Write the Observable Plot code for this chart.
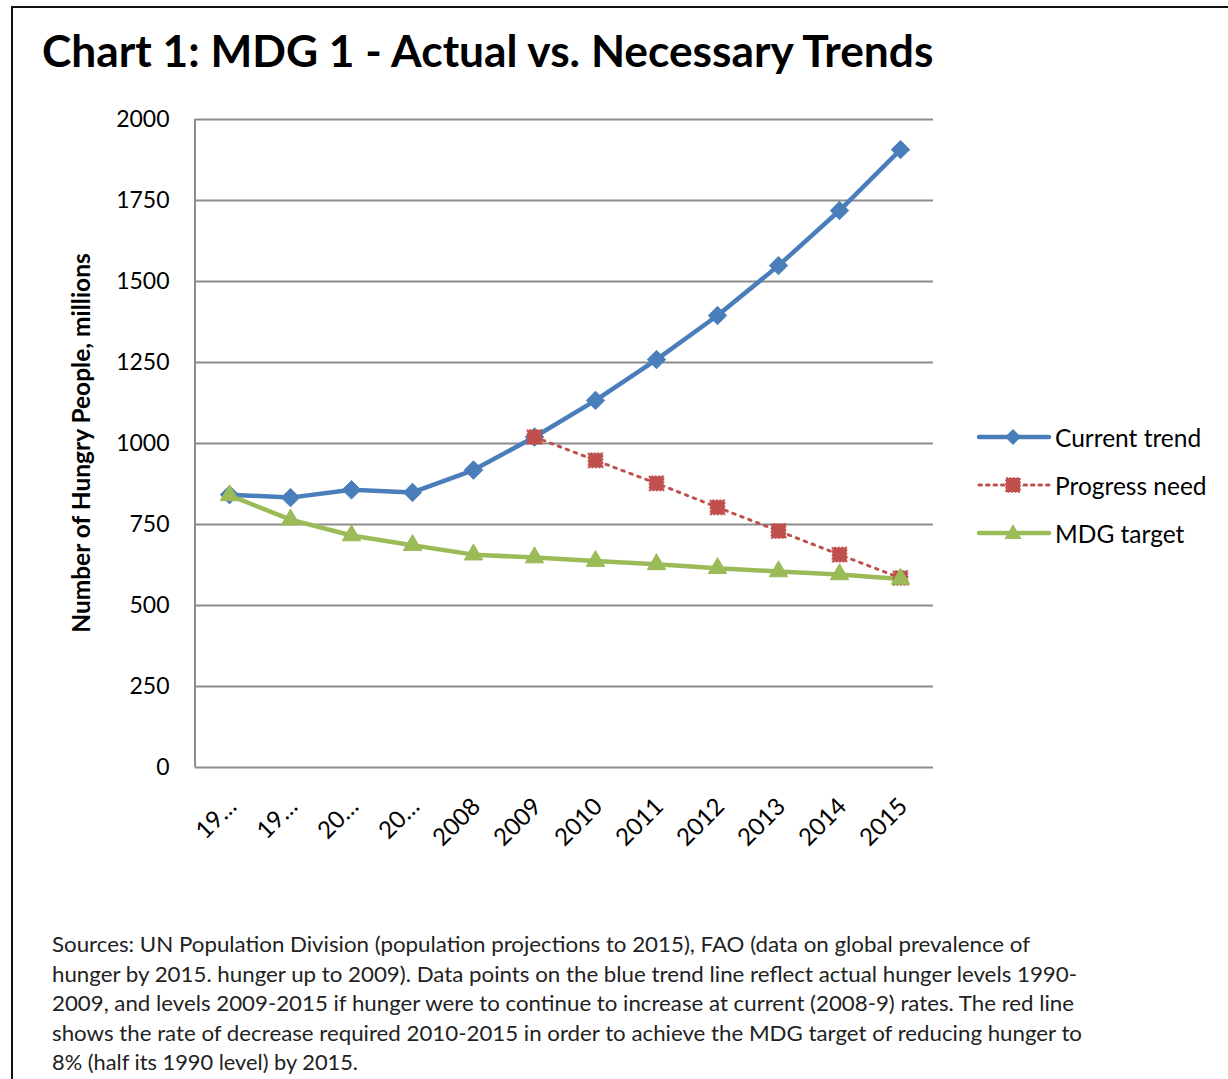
<!DOCTYPE html>
<html>
<head>
<meta charset="utf-8">
<script src="https://cdn.jsdelivr.net/npm/d3@7"></script>
<script src="https://cdn.jsdelivr.net/npm/@observablehq/plot@0.6"></script>
<style>
  html, body { margin: 0; padding: 0; background: #fff; width: 1228px; height: 1079px; overflow: hidden; }
  body { position: relative; font-family: Lato, "Open Sans", sans-serif; }
  #frame { position: absolute; left: 11px; top: 6px; width: 1300px; height: 1200px; border-left: 2px solid #111; border-top: 2px solid #111; }
  #title { position: absolute; left: 42px; top: 23px; font-size: 44.3px; font-weight: 700; color: #000; white-space: nowrap; }
  #chart { position: absolute; left: 0; top: 100px; }
  #ytitle { position: absolute; left: 80px; top: 443px; transform: translate(-50%, -50%) rotate(-90deg); font-size: 24.5px; font-weight: 700; white-space: nowrap; }
  #legend { position: absolute; left: 976px; top: 413px; }
  .li { display: flex; align-items: center; height: 48px; font-size: 24.5px; color: #000; }
  .li svg { margin-right: 3px; }
  #note { position: absolute; left: 52px; top: 929px; font-size: 21px; line-height: 29.5px; color: #222; white-space: nowrap; }
  #note div { transform-origin: 0 50%; }
</style>
</head>
<body>
<div id="frame"></div>
<div id="title">Chart 1: MDG 1 - Actual vs. Necessary Trends</div>
<div id="chart"></div>
<div id="ytitle">Number of Hungry People, millions</div>
<div id="legend"></div>
<div id="note"></div>
<script>
// ---- data ----
const years = ["1990", "1995", "2000", "2005", "2008", "2009", "2010", "2011", "2012", "2013", "2014", "2015"];
const tickLabels = ["19…", "19…", "20…", "20…", "2008", "2009", "2010", "2011", "2012", "2013", "2014", "2015"];
const currentTrend = [842, 833, 857, 849, 918, 1020, 1133, 1259, 1395, 1549, 1719, 1907];
const progressYears = ["2009", "2010", "2011", "2012", "2013", "2014", "2015"];
const progressNeed = [1020, 948, 877, 803, 730, 657, 585];
const mdgTarget = [840, 765, 716, 686, 657, 648, 637, 627, 615, 605, 596, 582];
const yTicks = [0, 250, 500, 750, 1000, 1250, 1500, 1750, 2000];
const seriesNames = ["Current trend", "Progress need", "MDG target"];
const noteLines = [
  "Sources: UN Population Division (population projections to 2015), FAO (data on global prevalence of",
  "hunger by 2015. hunger up to 2009). Data points on the blue trend line reflect actual hunger levels 1990-",
  "2009, and levels 2009-2015 if hunger were to continue to increase at current (2008-9) rates. The red line",
  "shows the rate of decrease required 2010-2015 in order to achieve the MDG target of reducing hunger to",
  "8% (half its 1990 level) by 2015."
];
const noteWidths = [978, 1025, 1022, 1030, 306];

const blue = "#4a7ebb", red = "#c0504d", green = "#9bbb59", grid = "#8c8c8c";

const cur = years.map((y, i) => ({year: y, v: currentTrend[i]}));
const prog = progressYears.map((y, i) => ({year: y, v: progressNeed[i]}));
const mdg = years.map((y, i) => ({year: y, v: mdgTarget[i]}));
const labelOf = new Map(years.map((y, i) => [y, tickLabels[i]]));

const plot = Plot.plot({
  width: 1228,
  height: 780,
  marginLeft: 195,
  marginRight: 295,
  marginTop: 19,
  marginBottom: 113,
  style: {fontFamily: "Lato, 'Open Sans', sans-serif", fontSize: "23px", color: "#000", background: "transparent"},
  x: {type: "point", domain: years, padding: 0.5},
  y: {domain: [0, 2000]},
  marks: [
    Plot.ruleY(yTicks, {stroke: grid, strokeWidth: 2}),
    Plot.axisY({ticks: yTicks, tickSize: 0, tickPadding: 26, label: null, fontSize: 23, tickFormat: d => String(d)}),
    Plot.axisX({tickSize: 0, tickPadding: 35, tickRotate: -45, dx: 3, label: null, fontSize: 24,
      tickFormat: d => labelOf.get(d)}),
    Plot.line(cur, {x: "year", y: "v", stroke: blue, strokeWidth: 4.5}),
    Plot.line(prog, {x: "year", y: "v", stroke: red, strokeWidth: 3, strokeDasharray: "2.5,6"}),
    Plot.line(mdg, {x: "year", y: "v", stroke: green, strokeWidth: 4.5}),
    Plot.dot(cur, {x: "year", y: "v", symbol: "diamond2", r: 8.3, fill: blue, stroke: blue, strokeWidth: 1}),
    Plot.dot(prog, {x: "year", y: "v", symbol: "square2", r: 9, fill: red, stroke: red, strokeWidth: 1.5, strokeDasharray: "2,1.5"}),
    Plot.dot(mdg, {x: "year", y: "v", symbol: "triangle2", r: 8.8, fill: green, stroke: green, strokeWidth: 1})
  ]
});
document.getElementById("chart").appendChild(plot);
const svg = d3.select(plot);
const ys = plot.scale("y");
// vertical axis line at the left edge of the plot area
svg.append("line").attr("x1", 195).attr("x2", 195).attr("y1", ys.apply(2000)).attr("y2", ys.apply(0))
  .attr("stroke", grid).attr("stroke-width", 2);

// legend
const legendStyles = [
  {color: blue, dash: null, sym: "diamond"},
  {color: red, dash: "2.5,5", sym: "square"},
  {color: green, dash: null, sym: "triangle"}
];
const lg = document.getElementById("legend");
seriesNames.forEach((name, i) => {
  const s = legendStyles[i];
  const row = document.createElement("div");
  row.className = "li";
  let marker = "";
  if (s.sym === "diamond") marker = `<path d="M37,4 L45,12 L37,20 L29,12Z" fill="${s.color}"/>`;
  if (s.sym === "square") marker = `<rect x="30" y="5" width="14" height="14" fill="${s.color}" stroke="${s.color}" stroke-width="1.5" stroke-dasharray="2,1.5"/>`;
  if (s.sym === "triangle") marker = `<path d="M37,3 L45.5,18 L28.5,18Z" fill="${s.color}"/>`;
  row.innerHTML = `<svg width="76" height="24"><line x1="3" x2="73" y1="12" y2="12" stroke="${s.color}" stroke-width="${s.dash ? 3 : 4.5}" stroke-linecap="round" ${s.dash ? `stroke-dasharray="${s.dash}"` : ""}/>${marker}</svg><span>${name}</span>`;
  lg.appendChild(row);
});

// footnote, each line stretched to the width it has in the reference
const note = document.getElementById("note");
noteLines.forEach((t, i) => {
  const d = document.createElement("div");
  const sp = document.createElement("span");
  sp.textContent = t;
  d.appendChild(sp);
  note.appendChild(d);
  const w = sp.getBoundingClientRect().width;
  d.style.transform = `scaleX(${noteWidths[i] / w})`;
});
</script>
</body>
</html>
